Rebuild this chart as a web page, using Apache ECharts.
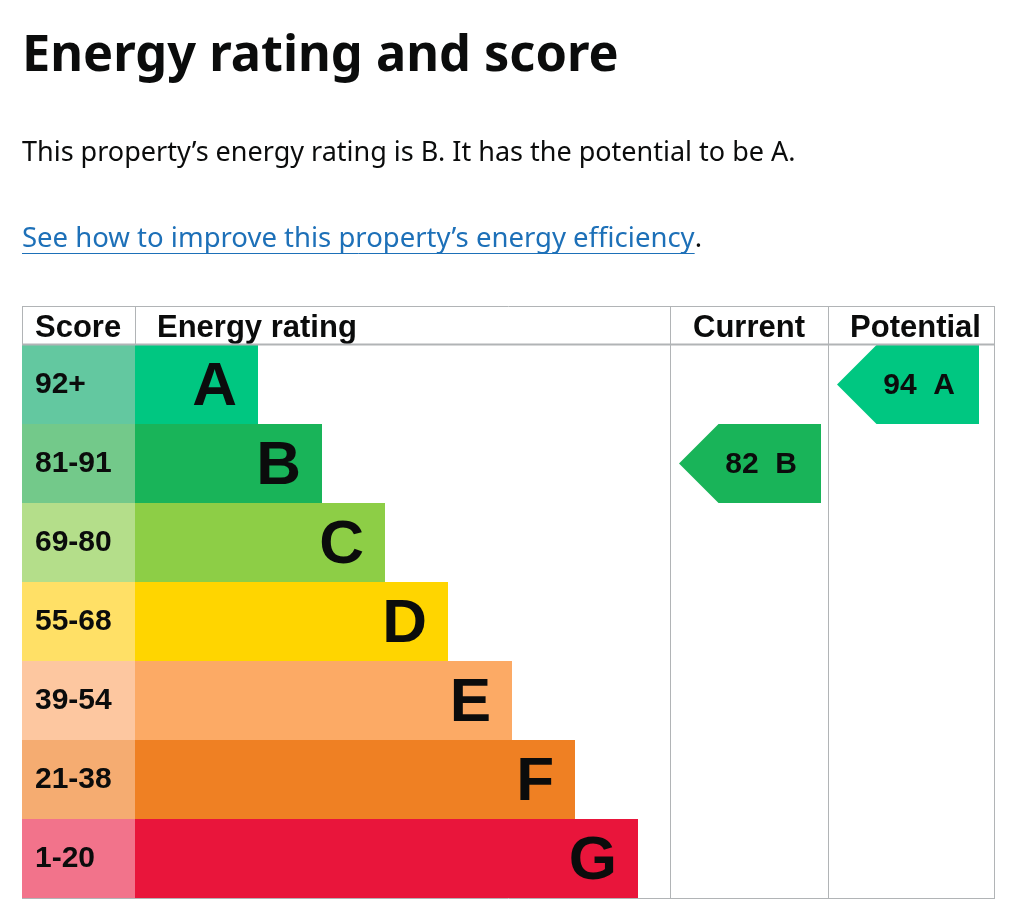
<!DOCTYPE html>
<html><head><meta charset="utf-8">
<script src="https://cdn.jsdelivr.net/npm/echarts@6/dist/echarts.min.js"></script>
<style>html,body{margin:0;padding:0;background:#fff}#c{width:1024px;height:919px}</style>
</head><body><div id="c"></div>
<script>
const bands = ['A','B','C','D','E','F','G'];
const scoreRanges = ['92+','81-91','69-80','55-68','39-54','21-38','1-20'];
const barLengths = [123,187,250,313,377,440,503];
const bandColors = ['#00c781','#19b459','#8dce46','#ffd500','#fcaa65','#ef8023','#e9153b'];
const scoreColors = ['#63c8a0','#73c98a','#b4de8a','#ffe066','#fdc7a0','#f5ac71','#f2738b'];
const columnHeaders = ['Score','Energy rating','Current','Potential'];
const currentScore = 82, currentBand = 'B';
const potentialScore = 94, potentialBand = 'A';
const titleText = 'Energy rating and score';
const introText = 'This property\u2019s energy rating is B. It has the potential to be A.';
const linkText = 'See how to improve this property\u2019s energy efficiency';

const chartFont = '"Liberation Sans", Arial, sans-serif';
const pageFont = '"Noto Sans", sans-serif';
const border = '#b1b4b6';

const T = 306, H0 = 345, ROWH = 79, B = H0 + ROWH * bands.length;
const cols = [22, 135, 670, 828, 995];

function measure(txt, font) {
  const c = document.createElement('canvas').getContext('2d');
  c.font = font; return c.measureText(txt).width;
}
const linkFont = '400 27.5px "Noto Sans"';
const linkW = measure(linkText, linkFont);

const chart = echarts.init(document.getElementById('c'), null, {renderer: 'canvas'});

function grid(i) {
  return {left: cols[i], width: cols[i+1] - cols[i], top: H0, height: B - H0};
}
const yAxes = [0,1,2,3].map(i => ({type: 'category', gridIndex: i, data: bands, inverse: true, show: false}));
const xAxes = [0,1,2,3].map(i => ({type: 'value', gridIndex: i, min: 0, max: i === 0 ? 1 : (cols[i+1] - cols[i]), show: false}));

function arrowItem(params, api) {
  const cs = params.coordSys;
  const c = api.coord([0, api.value(1)]);
  const h = api.size([0, 1])[1];
  const left = cs.x + 9;
  const right = cs.x + cs.width - (cs.width > 160 ? 16 : 7);
  const top = c[1] - h / 2, bot = c[1] + h / 2;
  const head = h / 2;
  const idx = bands.indexOf(api.value(1)) >= 0 ? bands.indexOf(api.value(1)) : api.value(1);
  return {
    type: 'group',
    children: [
      {type: 'polygon', shape: {points: [[left, c[1]], [left + head, top], [right, top], [right, bot], [left + head, bot]]},
       style: {fill: bandColors[idx]}},
      {type: 'text', x: right - 24, y: c[1] + 1,
       style: {text: api.value(0) + '  ' + bands[idx], align: 'right', verticalAlign: 'middle',
               font: 'bold 30px ' + chartFont, fill: '#0b0c0c'}}
    ]
  };
}

const option = {
  animation: false,
  grid: [0,1,2,3].map(grid),
  xAxis: xAxes,
  yAxis: yAxes,
  series: [
    {type: 'bar', xAxisIndex: 0, yAxisIndex: 0, barCategoryGap: 0, silent: true,
     data: bands.map((b, i) => ({value: 1, itemStyle: {color: scoreColors[i]}, label: {formatter: scoreRanges[i]}})),
     label: {show: true, position: 'insideLeft', distance: 13, color: '#0b0c0c', fontFamily: chartFont, fontWeight: 'bold', fontSize: 30}},
    {type: 'bar', xAxisIndex: 1, yAxisIndex: 1, barCategoryGap: 0, silent: true,
     data: barLengths.map((v, i) => ({value: v, itemStyle: {color: bandColors[i]}})),
     label: {show: true, position: 'insideRight', distance: 21, formatter: p => bands[p.dataIndex], color: '#0b0c0c',
             fontFamily: chartFont, fontWeight: 'bold', fontSize: 62, offset: [0, 3]}},
    {type: 'custom', xAxisIndex: 2, yAxisIndex: 2, renderItem: arrowItem, silent: true,
     data: [[currentScore, currentBand]]},
    {type: 'custom', xAxisIndex: 3, yAxisIndex: 3, renderItem: arrowItem, silent: true,
     data: [[potentialScore, potentialBand]]}
  ],
  graphic: [
    {type: 'text', left: 22, top: 31, style: {text: titleText, font: 'bold 50.5px ' + pageFont, fill: '#0b0c0c'}},
    {type: 'text', x: 22, y: 140, style: {text: introText, font: '400 27px ' + pageFont, fill: '#0b0c0c', verticalAlign: 'top'}},
    {type: 'text', x: 22, y: 225, style: {text: linkText, font: linkFont, fill: '#1d70b8', verticalAlign: 'top'}},
    {type: 'text', x: 22 + linkW, y: 225, style: {text: '.', font: linkFont, fill: '#0b0c0c', verticalAlign: 'top'}},
    {type: 'line', shape: {x1: 22, y1: 253.5, x2: 22 + linkW, y2: 253.5}, style: {stroke: '#1d70b8', lineWidth: 1}},
    // table borders
    {type: 'line', z: 10, shape: {x1: cols[0], y1: T + 0.5, x2: cols[4], y2: T + 0.5}, style: {stroke: border, lineWidth: 1}},
    {type: 'line', z: 10, shape: {x1: cols[0], y1: H0 - 0.5, x2: cols[4], y2: H0 - 0.5}, style: {stroke: border, lineWidth: 2}},
    {type: 'line', z: 10, shape: {x1: cols[0], y1: B + 0.5, x2: cols[4], y2: B + 0.5}, style: {stroke: border, lineWidth: 1}},
    {type: 'line', z: 10, shape: {x1: cols[0] + 0.5, y1: T, x2: cols[0] + 0.5, y2: H0}, style: {stroke: border, lineWidth: 1}},
    {type: 'line', z: 10, shape: {x1: cols[1] + 0.5, y1: T, x2: cols[1] + 0.5, y2: H0}, style: {stroke: border, lineWidth: 1}},
    {type: 'line', z: 10, shape: {x1: cols[2] + 0.5, y1: T, x2: cols[2] + 0.5, y2: B}, style: {stroke: border, lineWidth: 1}},
    {type: 'line', z: 10, shape: {x1: cols[3] + 0.5, y1: T, x2: cols[3] + 0.5, y2: B}, style: {stroke: border, lineWidth: 1}},
    {type: 'line', z: 10, shape: {x1: cols[4] - 0.5, y1: T, x2: cols[4] - 0.5, y2: B}, style: {stroke: border, lineWidth: 1}},
    // headers
    {type: 'text', x: 35, y: 328, style: {text: columnHeaders[0], font: 'bold 31px ' + chartFont, fill: '#0b0c0c', verticalAlign: 'middle'}},
    {type: 'text', x: 157, y: 328, style: {text: columnHeaders[1], font: 'bold 31px ' + chartFont, fill: '#0b0c0c', verticalAlign: 'middle'}},
    {type: 'text', x: (cols[2] + cols[3]) / 2, y: 328, style: {text: columnHeaders[2], font: 'bold 31px ' + chartFont, fill: '#0b0c0c', align: 'center', verticalAlign: 'middle'}},
    {type: 'text', x: (cols[3] + cols[4]) / 2 + 4, y: 328, style: {text: columnHeaders[3], font: 'bold 31px ' + chartFont, fill: '#0b0c0c', align: 'center', verticalAlign: 'middle'}}
  ]
};
chart.setOption(option);
</script></body></html>
